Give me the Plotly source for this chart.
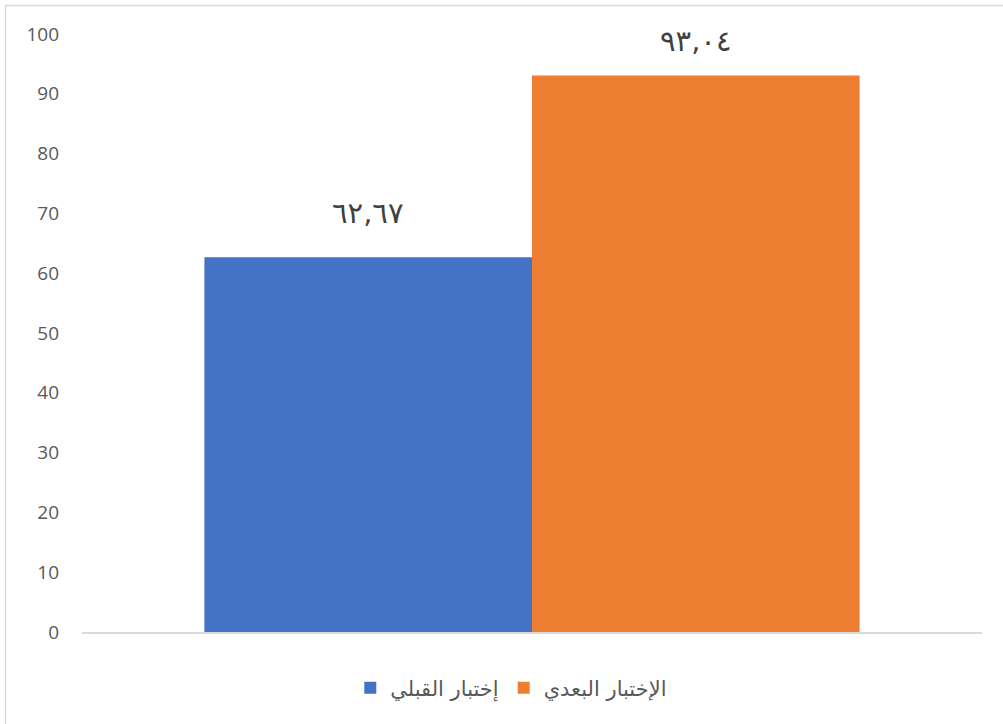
import plotly.graph_objects as go

# ---- data ----
categories = ["الاختبار"]
series_names = ["إختبار القبلي", "الإختبار البعدي"]
series_values = [62.67, 93.04]
value_labels = ["٦٢,٦٧", "٩٣,٠٤"]
series_colors = ["#4472C4", "#ED7D31"]
y_ticks = [0, 10, 20, 30, 40, 50, 60, 70, 80, 90, 100]

fig = go.Figure()
for name, val, col in zip(series_names, series_values, series_colors):
    fig.add_trace(go.Bar(
        x=categories, y=[val], name=name,
        marker=dict(color=col, line=dict(width=0)),
        hoverinfo="skip",
    ))

# data labels above bars
label_yshift = [44, 35]
for i, (val, lab) in enumerate(zip(series_values, value_labels)):
    fig.add_annotation(
        x=categories[0], y=val, xref="x", yref="y",
        text=lab, showarrow=False,
        xshift=(i - 0.5) * 327.5,
        yshift=label_yshift[i], yanchor="middle",
        font=dict(family="DejaVu Sans, Liberation Serif", size=29, color="#404040"),
    )

W, H = 1003, 724
ml, mr, mt, mb = 82, 21, 34, 92
pw, ph = W - ml - mr, H - mt - mb

# outer chart border (only top/left visible in the crop)
fig.add_shape(
    type="rect", xref="paper", yref="paper",
    x0=(5.5 - ml) / pw, x1=(W + 20 - ml) / pw,
    y0=-(H + 20 - (H - mb)) / ph, y1=(H - mb - 5.5) / ph,
    line=dict(color="#D9D9D9", width=1.5), fillcolor="rgba(0,0,0,0)",
    layer="below",
)

fig.update_layout(
    width=W, height=H,
    margin=dict(l=ml, r=mr, t=mt, b=mb),
    paper_bgcolor="white", plot_bgcolor="white",
    barmode="group", bargap=0.272, bargroupgap=0,
    showlegend=True,
    legend=dict(
        orientation="h", x=0.477, xanchor="center", y=-0.094, yanchor="middle",
        font=dict(family="DejaVu Sans, Liberation Sans", size=21, color="#595959"),
        itemclick=False, itemdoubleclick=False,
        traceorder="normal",
    ),
    xaxis=dict(
        showticklabels=False, showgrid=False, zeroline=False,
        showline=True, linecolor="#D9D9D9", linewidth=2,
        range=[-0.5, 0.5], fixedrange=True,
    ),
    yaxis=dict(
        range=[0, 100], tickvals=y_ticks, showgrid=False, zeroline=False,
        showline=False, ticks="", ticklabelstandoff=22,
        tickfont=dict(family="Open Sans, Liberation Sans", size=19, color="#595959"),
        fixedrange=True,
    ),
)

fig.write_html(
    "out.html",
    config={"displayModeBar": False},
    post_script="document.body.style.margin='0';",
)
